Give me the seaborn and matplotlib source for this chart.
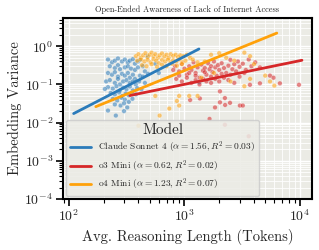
import numpy as np
import pandas as pd
import matplotlib
matplotlib.use("Agg")
import matplotlib.pyplot as plt
from matplotlib.lines import Line2D
from matplotlib.ticker import LogLocator, NullFormatter
import seaborn as sns

# ---------------- data ----------------
claude_tokens = [218, 236, 250, 266, 288, 305, 324, 337, 358, 373, 396, 412,
                 226, 250, 266, 277, 305, 324, 345, 373, 396, 437, 455,
                 218, 236, 250, 266, 288, 305, 324, 337, 358, 373, 412, 437, 483,
                 210, 226, 250, 266, 277, 295, 315, 337, 358, 380, 405, 455,
                 218, 240, 258, 277, 295, 315, 337, 358, 390, 425,
                 230, 250, 272, 290, 310, 330, 350, 380,
                 240, 262, 285, 305, 330, 355,
                 250, 280, 300, 320,
                 218, 255, 300, 205, 600, 560, 1340, 480]
claude_var = [0.45, 0.38, 0.42, 0.48, 0.40, 0.45, 0.38, 0.42, 0.46, 0.35, 0.40, 0.44,
              0.30, 0.27, 0.32, 0.25, 0.28, 0.30, 0.26, 0.24, 0.28, 0.30, 0.22,
              0.20, 0.18, 0.21, 0.16, 0.19, 0.17, 0.20, 0.15, 0.18, 0.14, 0.17, 0.16, 0.19,
              0.12, 0.13, 0.11, 0.14, 0.10, 0.12, 0.13, 0.11, 0.12, 0.10, 0.12, 0.11,
              0.085, 0.078, 0.09, 0.07, 0.082, 0.075, 0.088, 0.07, 0.08, 0.075,
              0.06, 0.055, 0.062, 0.05, 0.058, 0.052, 0.06, 0.055,
              0.042, 0.038, 0.045, 0.04, 0.035, 0.042,
              0.03, 0.028, 0.032, 0.025,
              0.0207, 0.0153, 0.02, 0.076, 0.2, 0.35, 0.113, 0.55]

o4_tokens = [380, 400, 420, 440, 460, 480, 500, 520, 540, 560, 590, 610, 640, 670, 700, 730,
             760, 800, 840, 880, 920, 980, 1050, 1120,
             390, 420, 450, 480, 510, 540, 570, 600, 640, 680, 720, 760, 800, 850, 900, 960, 1020,
             430, 470, 520, 580, 640, 700, 780, 860, 950,
             1180, 1300, 1500, 1700, 2000, 2300, 3300, 3700, 2700, 4000,
             1400, 1800, 2500, 3300, 3700, 5000, 6000, 5500,
             560, 900, 1100, 860, 740, 610, 400, 1300, 900]
o4_var = [0.55, 0.62, 0.50, 0.58, 0.66, 0.52, 0.60, 0.68, 0.55, 0.62, 0.50, 0.58, 0.65, 0.54, 0.60, 0.50,
          0.62, 0.56, 0.60, 0.52, 0.58, 0.55, 0.60, 0.50,
          0.42, 0.45, 0.40, 0.44, 0.38, 0.46, 0.42, 0.36, 0.44, 0.40, 0.45, 0.38, 0.43, 0.40, 0.45, 0.38, 0.42,
          0.32, 0.30, 0.34, 0.29, 0.33, 0.30, 0.35, 0.31, 0.34,
          0.45, 0.38, 0.40, 0.60, 0.66, 0.50, 0.68, 0.55, 0.42, 0.34,
          0.15, 0.20, 0.12, 0.09, 0.14, 0.17, 0.093, 0.12,
          0.05, 0.05, 0.05, 0.037, 0.0234, 0.0153, 0.0083, 0.05, 0.028]

o3_tokens = [830, 900, 950, 1000, 1050, 1100, 1150, 1200, 1250, 1300, 1350, 1400, 1450, 1500,
             1550, 1600, 1650, 1700, 1750, 1800, 1850, 1900, 1950, 2000, 2100, 2200, 2300, 2400,
             2500, 2600, 2700, 2800, 2900, 3000, 3200, 3400, 3600, 3800, 4100, 4500,
             850, 950, 1050, 1150, 1250, 1350, 1450, 1550, 1700, 1850, 2000, 2200, 2400, 2700,
             3000, 1100, 1250, 1500, 1700, 2100, 2500, 3300, 900, 800,
             2030, 2240, 1840, 2480, 3020, 3200, 3690, 4500, 5500, 5900, 6700, 9800,
             1120, 1360, 2030, 2250, 1650, 2240, 3600]
o3_var = [0.30, 0.22, 0.35, 0.26, 0.18, 0.30, 0.24, 0.38, 0.20, 0.28, 0.15, 0.33, 0.23, 0.27,
          0.18, 0.36, 0.25, 0.30, 0.21, 0.40, 0.28, 0.17, 0.32, 0.24, 0.36, 0.27, 0.20, 0.31,
          0.44, 0.25, 0.34, 0.22, 0.40, 0.29, 0.35, 0.24, 0.45, 0.30, 0.38, 0.28,
          0.14, 0.12, 0.15, 0.11, 0.13, 0.10, 0.14, 0.12, 0.11, 0.14, 0.12, 0.15, 0.13, 0.11,
          0.16, 0.20, 0.17, 0.21, 0.16, 0.19, 0.18, 0.20, 0.17, 0.24,
          0.066, 0.044, 0.025, 0.033, 0.028, 0.028, 0.098, 0.107, 0.17, 0.15, 0.107, 0.098,
          0.039, 0.043, 0.034, 0.029, 0.0125, 0.0088, 0.0044]

models = ["Claude Sonnet 4", "o3 Mini", "o4 Mini"]
colors = ["#2b7bba", "#d62728", "#ffa10a"]
fit_alpha = [1.56, 0.62, 1.23]
fit_r2 = [0.03, 0.02, 0.07]
fit_intercept = [-4.947, -2.857, -4.328]   # log10 intercepts
fit_xmin = [110, 337, 171]
fit_xmax = [1336, 10400, 6300]

# ---------------- style ----------------
sns.set_theme(style="darkgrid")
plt.rcParams["font.family"] = ["cmr10", "DejaVu Serif"]
plt.rcParams["mathtext.fontset"] = "cm"
plt.rcParams["axes.formatter.use_mathtext"] = True
plt.rcParams["axes.unicode_minus"] = False

df = pd.DataFrame({
    "tokens": claude_tokens + o3_tokens + o4_tokens,
    "var": claude_var + o3_var + o4_var,
    "model": [models[0]] * len(claude_tokens) + [models[1]] * len(o3_tokens) + [models[2]] * len(o4_tokens),
})

fig = plt.figure(figsize=(3.19, 2.5), dpi=100)
ax = fig.add_axes([0.197, 0.204, 0.781, 0.724])
ax.set_facecolor("#ebebe5")

sns.scatterplot(data=df, x="tokens", y="var", hue="model", hue_order=models,
                palette=colors, s=11, alpha=0.55, edgecolor="white", linewidth=0.3,
                legend=False, ax=ax, zorder=2)

handles = []
for m, c, a, r2, b, x0, x1 in zip(models, colors, fit_alpha, fit_r2, fit_intercept, fit_xmin, fit_xmax):
    xs = np.array([x0, x1], dtype=float)
    ys = 10 ** (b + a * np.log10(xs))
    sns.lineplot(x=xs, y=ys, color=c, lw=2, ax=ax, zorder=3)
    handles.append(Line2D([0], [0], color=c, lw=2,
                          label=f"{m} ($\\alpha={a:.2f}, R^2={r2:.2f}$)"))

ax.set_xscale("log")
ax.set_yscale("log")
ax.set_xlim(88.7, 12700)
ax.set_ylim(1e-4, 5.5)

ax.xaxis.set_minor_locator(LogLocator(base=10, subs=np.arange(2, 10), numticks=20))
ax.yaxis.set_minor_locator(LogLocator(base=10, subs=np.arange(2, 10), numticks=20))
ax.xaxis.set_minor_formatter(NullFormatter())
ax.yaxis.set_minor_formatter(NullFormatter())
ax.grid(which="major", color="white", lw=1.0)
ax.grid(which="minor", color="white", lw=0.6)

for s in ax.spines.values():
    s.set_visible(True)
    s.set_color("black")
    s.set_linewidth(1.5)

ax.tick_params(axis="both", which="major", direction="out", length=5, width=1.2,
               color="black", labelsize=10, pad=2, bottom=True, left=True)
ax.tick_params(axis="both", which="minor", direction="out", length=3, width=0.8,
               color="black", bottom=True, left=True)

ax.set_xlabel("Avg. Reasoning Length (Tokens)", fontsize=10.5, labelpad=3)
ax.set_ylabel("Embedding Variance", fontsize=10.5, labelpad=2)
ax.set_title("Open-Ended Awareness of Lack of Internet Access", fontsize=6, pad=4)

leg = ax.legend(handles=handles, title="Model", loc="lower left", fontsize=6.8,
                title_fontsize=11, frameon=True, borderaxespad=0.35, handlelength=2.2,
                labelspacing=0.3, borderpad=0.4, handletextpad=0.8)
leg.get_frame().set_facecolor("#ebebe5")
leg.get_frame().set_alpha(0.85)
leg.get_frame().set_edgecolor("#cccccc")

fig.savefig("out.png", dpi=100)
